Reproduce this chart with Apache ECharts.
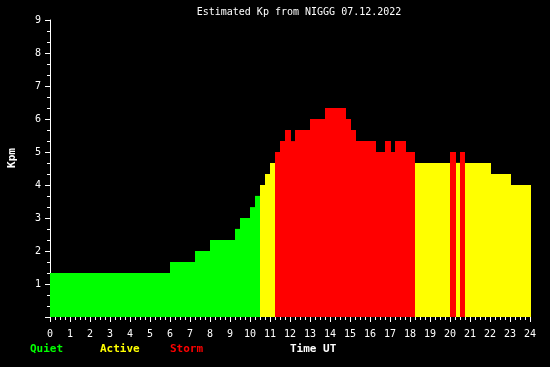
<!DOCTYPE html>
<html>
<head>
<meta charset="utf-8">
<script src="https://cdn.jsdelivr.net/npm/echarts@6/dist/echarts.min.js"></script>
<style>
html,body{margin:0;padding:0;background:#000;}
#c{width:550px;height:367px;}
</style>
</head>
<body>
<div id="c"></div>
<script>
// Segment start (hours UT), segment end (hours UT), estimated Kp value
var segStart = [0, 6, 7.25, 8, 9.25, 9.5, 10, 10.25, 10.5, 10.75, 11, 11.25, 11.5, 11.75, 12.05, 12.25, 13, 13.75, 14.8, 15.05, 15.3, 16.3, 16.75, 17.05, 17.25, 17.8, 18.25, 20, 20.3, 20.5, 20.75, 22.05, 23.05];
var segEnd   = [6, 7.25, 8, 9.25, 9.5, 10, 10.25, 10.5, 10.75, 11, 11.25, 11.5, 11.75, 12.05, 12.25, 13, 13.75, 14.8, 15.05, 15.3, 16.3, 16.75, 17.05, 17.25, 17.8, 18.25, 20, 20.3, 20.5, 20.75, 22.05, 23.05, 24.05];
var kpValues = [1.33, 1.67, 2.0, 2.33, 2.67, 3.0, 3.33, 3.67, 4.0, 4.33, 4.67, 5.0, 5.33, 5.67, 5.33, 5.67, 6.0, 6.33, 6.0, 5.67, 5.33, 5.0, 5.33, 5.0, 5.33, 5.0, 4.67, 5.0, 4.67, 5.0, 4.67, 4.33, 4.0];
var xTickLabels = ['0','1','2','3','4','5','6','7','8','9','10','11','12','13','14','15','16','17','18','19','20','21','22','23','24'];
var yTickLabels = ['', '1','2','3','4','5','6','7','8','9'];
var titleText = 'Estimated Kp from NIGGG 07.12.2022';

var QUIET = '#00ff00', ACTIVE = '#ffff00', STORM = '#ff0000';
function kpColor(v){ return v >= 5 ? STORM : (v >= 4 ? ACTIVE : QUIET); }

var data = segStart.map(function(s, i){ return [s, segEnd[i], kpValues[i]]; });

var mono = '"DejaVu Sans Mono", "Liberation Mono", monospace';
var chart = echarts.init(document.getElementById('c'), null, {renderer: 'canvas'});
chart.setOption({
  backgroundColor: '#000',
  animation: false,
  grid: {left: 50, right: 20, top: 20, bottom: 50, containLabel: false},
  xAxis: {
    type: 'value', min: 0, max: 24, interval: 1,
    axisLine: {show: false},
    axisTick: {show: true, length: 5, lineStyle: {color: '#fff', width: 1}},
    minorTick: {show: true, splitNumber: 4, length: 3, lineStyle: {color: '#fff', width: 1}},
    splitLine: {show: false},
    axisLabel: {color: '#fff', fontFamily: mono, fontSize: 10, margin: 12,
      formatter: function(v){ return xTickLabels[Math.round(v)]; }}
  },
  yAxis: {
    type: 'value', min: 0, max: 9, interval: 1,
    axisLine: {show: true, lineStyle: {color: '#fff', width: 1}},
    axisTick: {show: true, length: 5, lineStyle: {color: '#fff', width: 1}},
    minorTick: {show: true, splitNumber: 3, length: 3, lineStyle: {color: '#fff', width: 1}},
    splitLine: {show: false},
    axisLabel: {color: '#fff', fontFamily: mono, fontSize: 10, margin: 9,
      formatter: function(v){ return yTickLabels[Math.round(v)]; }}
  },
  series: [{
    type: 'custom',
    clip: false,
    data: data,
    encode: {x: [0, 1], y: 2},
    renderItem: function(params, api){
      var p0 = api.coord([api.value(0), api.value(2)]);
      var p1 = api.coord([api.value(1), 0]);
      return {
        type: 'rect',
        shape: {x: p0[0], y: p0[1], width: p1[0] - p0[0], height: p1[1] - p0[1]},
        style: {fill: kpColor(api.value(2))}
      };
    }
  }],
  graphic: [
    {type: 'text', x: 299, y: 12, style: {text: titleText, fill: '#fff', font: '10px ' + mono, textAlign: 'center', textVerticalAlign: 'middle'}},
    {type: 'text', x: 12, y: 158, rotation: Math.PI / 2, style: {text: 'Kpm', fill: '#fff', font: 'bold 11px ' + mono, textAlign: 'center', textVerticalAlign: 'middle'}},
    {type: 'text', x: 30, y: 349, style: {text: 'Quiet', fill: QUIET, font: 'bold 11px ' + mono, textAlign: 'left', textVerticalAlign: 'middle'}},
    {type: 'text', x: 100, y: 349, style: {text: 'Active', fill: ACTIVE, font: 'bold 11px ' + mono, textAlign: 'left', textVerticalAlign: 'middle'}},
    {type: 'text', x: 170, y: 349, style: {text: 'Storm', fill: STORM, font: 'bold 11px ' + mono, textAlign: 'left', textVerticalAlign: 'middle'}},
    {type: 'text', x: 290, y: 349, style: {text: 'Time UT', fill: '#fff', font: 'bold 11px ' + mono, textAlign: 'left', textVerticalAlign: 'middle'}}
  ]
});
</script>
</body>
</html>
